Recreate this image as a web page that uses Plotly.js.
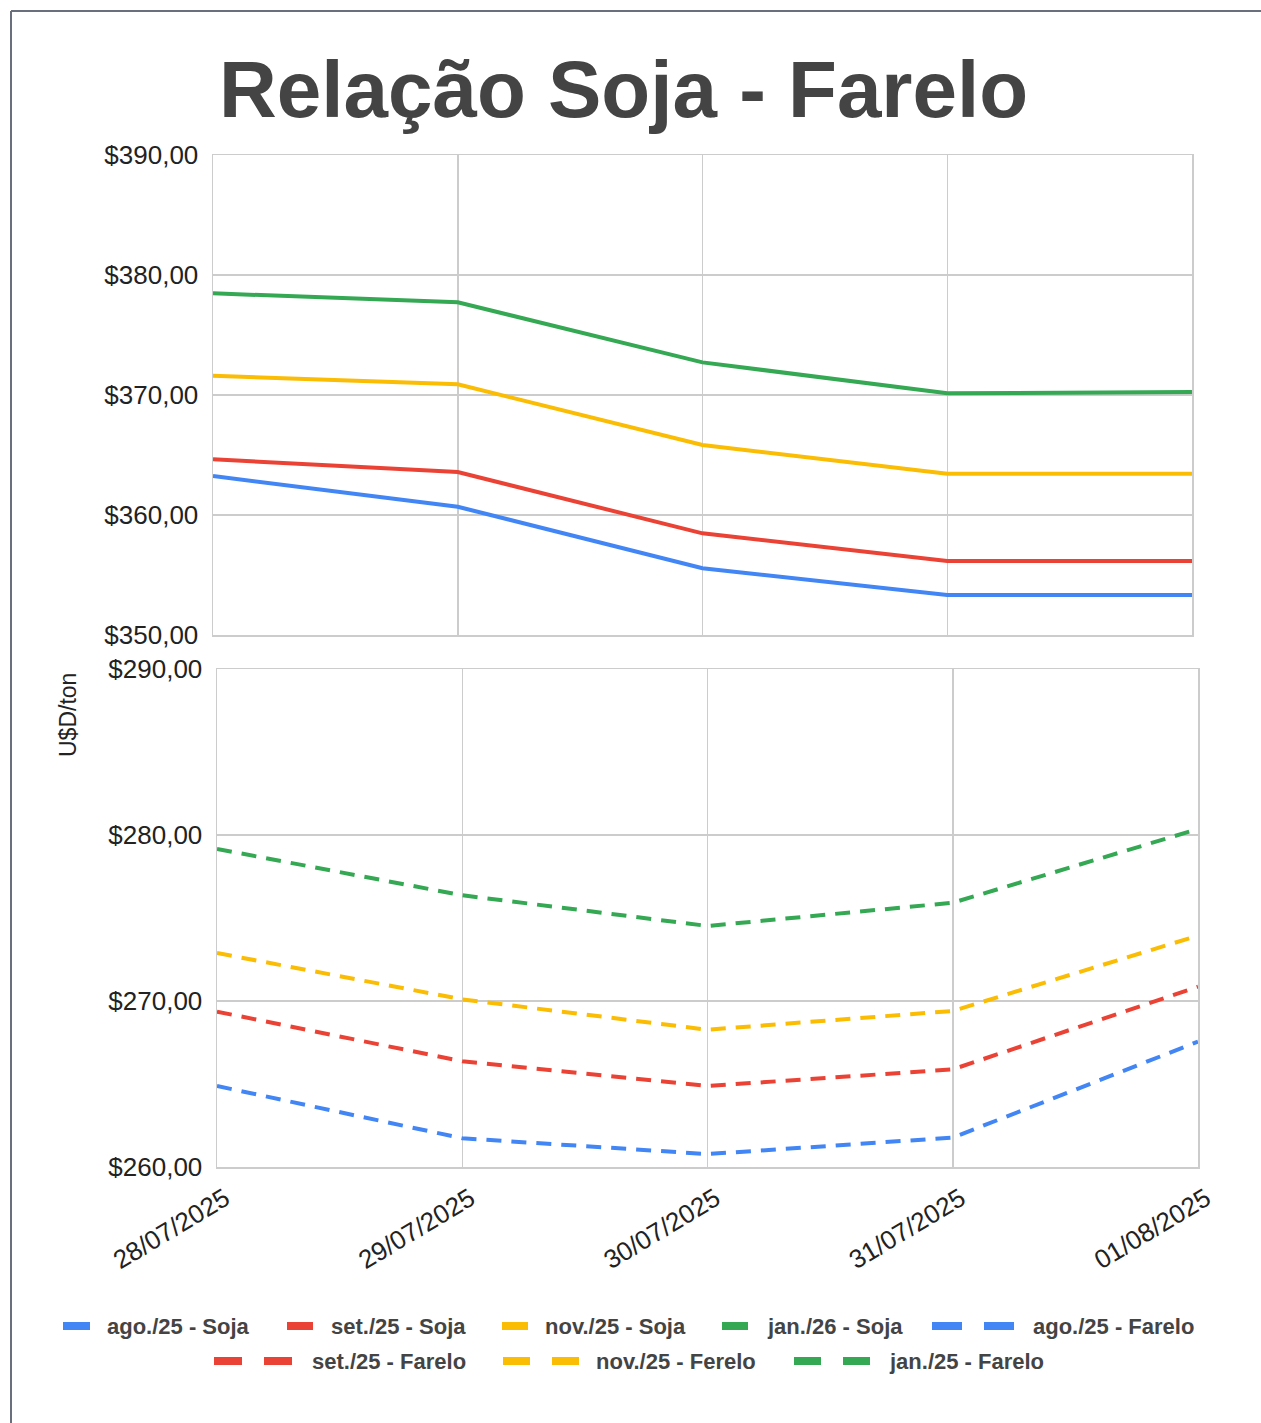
<!DOCTYPE html>
<html>
<head>
<meta charset="utf-8">
<script src="https://cdn.plot.ly/plotly-3.0.1.min.js"></script>
<style>
  html, body { margin: 0; padding: 0; background: #ffffff; }
  #chart { width: 1261px; height: 1423px; }
</style>
</head>
<body>
<div id="chart"></div>
<script>
// ---------- data ----------
const dates = ['28/07/2025', '29/07/2025', '30/07/2025', '31/07/2025', '01/08/2025'];

const sojaAgo25 = [363.25, 360.69, 355.56, 353.33, 353.33];
const sojaSet25 = [364.64, 363.58, 358.47, 356.17, 356.17];
const sojaNov25 = [371.61, 370.89, 365.83, 363.44, 363.44];
const sojaJan26 = [378.47, 377.72, 372.72, 370.14, 370.25];

const fareloAgo25 = [264.88, 261.73, 260.78, 261.77, 267.55];
const fareloSet25 = [269.36, 266.37, 264.88, 265.88, 270.86];
const fareloNov25 = [272.89, 270.10, 268.27, 269.40, 273.94];
const fareloJan25 = [279.16, 276.37, 274.52, 275.92, 280.36];

const seriesNames = ['ago./25 - Soja', 'set./25 - Soja', 'nov./25 - Soja', 'jan./26 - Soja',
                     'ago./25 - Farelo', 'set./25 - Farelo', 'nov./25 - Ferelo', 'jan./25 - Farelo'];

const chartTitle = 'Relação Soja - Farelo';
const yTitle = 'U$D/ton';

// ---------- styling ----------
const BLUE = '#4285F4', RED = '#EA4335', YELLOW = '#FBBC04', GREEN = '#34A853';
const FONT = '"Liberation Sans", Arial, sans-serif';
const W = 1261, H = 1423;
const M = { l: 213, r: 63, t: 155, b: 256 };
const PW = W - M.l - M.r, PH = H - M.t - M.b;
const px = x => (x - M.l) / PW;           // pixel -> paper x
const py = y => (H - M.b - y) / PH;        // pixel -> paper y

const sojaSeries = [sojaAgo25, sojaSet25, sojaNov25, sojaJan26];
const fareloSeries = [fareloAgo25, fareloSet25, fareloNov25, fareloJan25];
const colors = [BLUE, RED, YELLOW, GREEN];

const traces = [];
sojaSeries.forEach((s, i) => traces.push({
  type: 'scatter', mode: 'lines', x: dates, y: s, name: seriesNames[i],
  xaxis: 'x', yaxis: 'y', showlegend: false,
  line: { color: colors[i], width: 4 }
}));
fareloSeries.forEach((s, i) => traces.push({
  type: 'scatter', mode: 'lines', x: dates, y: s, name: seriesNames[i + 4],
  xaxis: 'x2', yaxis: 'y2', showlegend: false,
  line: { color: colors[i], width: 4, dash: '15px,10px' }
}));

// ---------- custom legend (positions in pixels) ----------
const legendItems = [
  { row: 0, sym: [63, 90], dashed: false, tx: 105 },
  { row: 0, sym: [287, 313], dashed: false, tx: 329 },
  { row: 0, sym: [502, 528], dashed: false, tx: 543 },
  { row: 0, sym: [722, 748], dashed: false, tx: 765 },
  { row: 0, sym: [932, 1014], dashed: true, tx: 1031 },
  { row: 1, sym: [214, 292], dashed: true, tx: 310 },
  { row: 1, sym: [503, 579], dashed: true, tx: 594 },
  { row: 1, sym: [794, 870], dashed: true, tx: 887 }
];
const rowY = [1326, 1361];

const shapes = [];
const annotations = [];
legendItems.forEach((it, i) => {
  const c = colors[i % 4];
  const y = py(rowY[it.row]);
  if (!it.dashed) {
    shapes.push({ type: 'line', xref: 'paper', yref: 'paper', x0: px(it.sym[0]), x1: px(it.sym[1]),
                  y0: y, y1: y, line: { color: c, width: 8 } });
  } else {
    const seg = (it.sym[1] - it.sym[0] - 22) / 2;
    shapes.push({ type: 'line', xref: 'paper', yref: 'paper', x0: px(it.sym[0]), x1: px(it.sym[0] + seg),
                  y0: y, y1: y, line: { color: c, width: 8 } });
    shapes.push({ type: 'line', xref: 'paper', yref: 'paper', x0: px(it.sym[1] - seg), x1: px(it.sym[1]),
                  y0: y, y1: y, line: { color: c, width: 8 } });
  }
  annotations.push({ xref: 'paper', yref: 'paper', x: px(it.tx), y: y, xanchor: 'left', yanchor: 'middle',
                     showarrow: false, text: '<b>' + seriesNames[i] + '</b>',
                     font: { family: FONT, size: 22, color: '#444444' } });
});

// y axis title
annotations.push({ xref: 'paper', yref: 'paper', x: px(68), y: py(715), xanchor: 'center', yanchor: 'middle',
                   showarrow: false, text: yTitle, textangle: -90,
                   font: { family: FONT, size: 23, color: '#222222' } });

// outer frame (screenshot border)
shapes.push({ type: 'line', xref: 'paper', yref: 'paper', x0: px(11), x1: px(1261), y0: py(11), y1: py(11),
              line: { color: '#6a6f7d', width: 2 } });
shapes.push({ type: 'line', xref: 'paper', yref: 'paper', x0: px(11), x1: px(11), y0: py(11), y1: py(1423),
              line: { color: '#6a6f7d', width: 2 } });

const gridC = '#cccccc';
const axisCommon = {
  gridcolor: gridC, gridwidth: 1.5, showline: true, mirror: true, linecolor: gridC, linewidth: 1.5,
  zeroline: false, fixedrange: true
};
const tickFont = { family: FONT, size: 26, color: '#222222' };

const layout = {
  width: W, height: H,
  margin: M,
  paper_bgcolor: '#ffffff', plot_bgcolor: '#ffffff',
  separators: ',.',
  font: { family: FONT, color: '#222222' },
  showlegend: false,
  title: {
    text: '<b>' + chartTitle + '</b>',
    font: { family: FONT, size: 80, color: '#444444' },
    xref: 'container', yref: 'container', x: 623.5 / W, xanchor: 'center',
    y: 1 - 89 / H, yanchor: 'middle'
  },
  xaxis: Object.assign({}, axisCommon, {
    type: 'category', domain: [0, px(1192)], range: [0, 4], anchor: 'y',
    showticklabels: false, ticks: ''
  }),
  yaxis: Object.assign({}, axisCommon, {
    domain: [py(635), 1], range: [350, 390], dtick: 10, anchor: 'x',
    tickprefix: '$', tickformat: '.2f', ticks: '', ticklabelstandoff: 8,
    tickfont: tickFont
  }),
  xaxis2: Object.assign({}, axisCommon, {
    type: 'category', domain: [px(217), 1], range: [0, 4], anchor: 'y2',
    tickangle: -31, ticks: '', ticklabelstandoff: 5, ticklabelshift: 8,
    tickfont: tickFont
  }),
  yaxis2: Object.assign({}, axisCommon, {
    domain: [0, py(669)], range: [260, 290], dtick: 10, anchor: 'x2',
    tickprefix: '$', tickformat: '.2f', ticks: '', ticklabelstandoff: 8,
    tickfont: tickFont
  }),
  shapes: shapes,
  annotations: annotations
};

Plotly.newPlot('chart', traces, layout, { displayModeBar: false, staticPlot: true });
</script>
</body>
</html>
